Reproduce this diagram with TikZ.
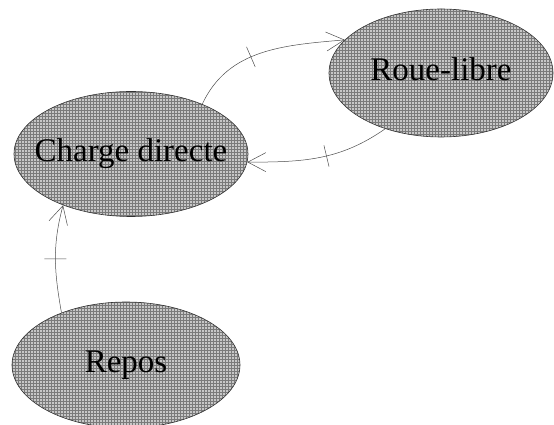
\documentclass[tikz,border=0pt]{standalone}
\usepackage{fontspec}
\setmainfont{Liberation Serif}
\usetikzlibrary{arrows.meta,shapes.geometric,patterns,decorations.markings}

\newcommand{\etiq}[1]{\makebox[0pt]{#1}}

\begin{document}
\begin{tikzpicture}[
  x=1pt, y=1pt,
  >={Straight Barb[length=18pt,width=19pt]},
  state/.style={ellipse, draw=black!80, line width=0.6pt, inner sep=0pt,
              preaction={fill=black!22}, pattern=grid, pattern color=black!52,
              font=\fontsize{33}{38}\selectfont, text height=23pt, text depth=7pt},
  arr/.style={->, line width=0.5pt, draw=black!70},
  crossmark/.style={postaction={decorate, decoration={markings,
              mark=at position #1 with {\draw[-, line width=0.5pt, black!70] (0,-11pt) -- (0,11pt);}}}},
]
\useasboundingbox (0,0) rectangle (554,425);

\node[state, minimum width=234pt, minimum height=125pt] (charge) at (131,271) {\etiq{Charge directe}};
\node[state, minimum width=224pt, minimum height=128pt] (roue) at (441,352) {\etiq{Roue-libre}};
\node[state, minimum width=228pt, minimum height=126pt] (repos) at (126,60) {\etiq{Repos}};

\draw[arr, crossmark=0.42] (charge.35) to[out=65, in=185] (roue.161);
\draw[arr, crossmark=0.45] (roue.225) to[out=215, in=0] (charge.356);
\draw[arr, crossmark=0.5] (repos.141) to[out=100, in=255] (charge.217);

\end{tikzpicture}
\end{document}
